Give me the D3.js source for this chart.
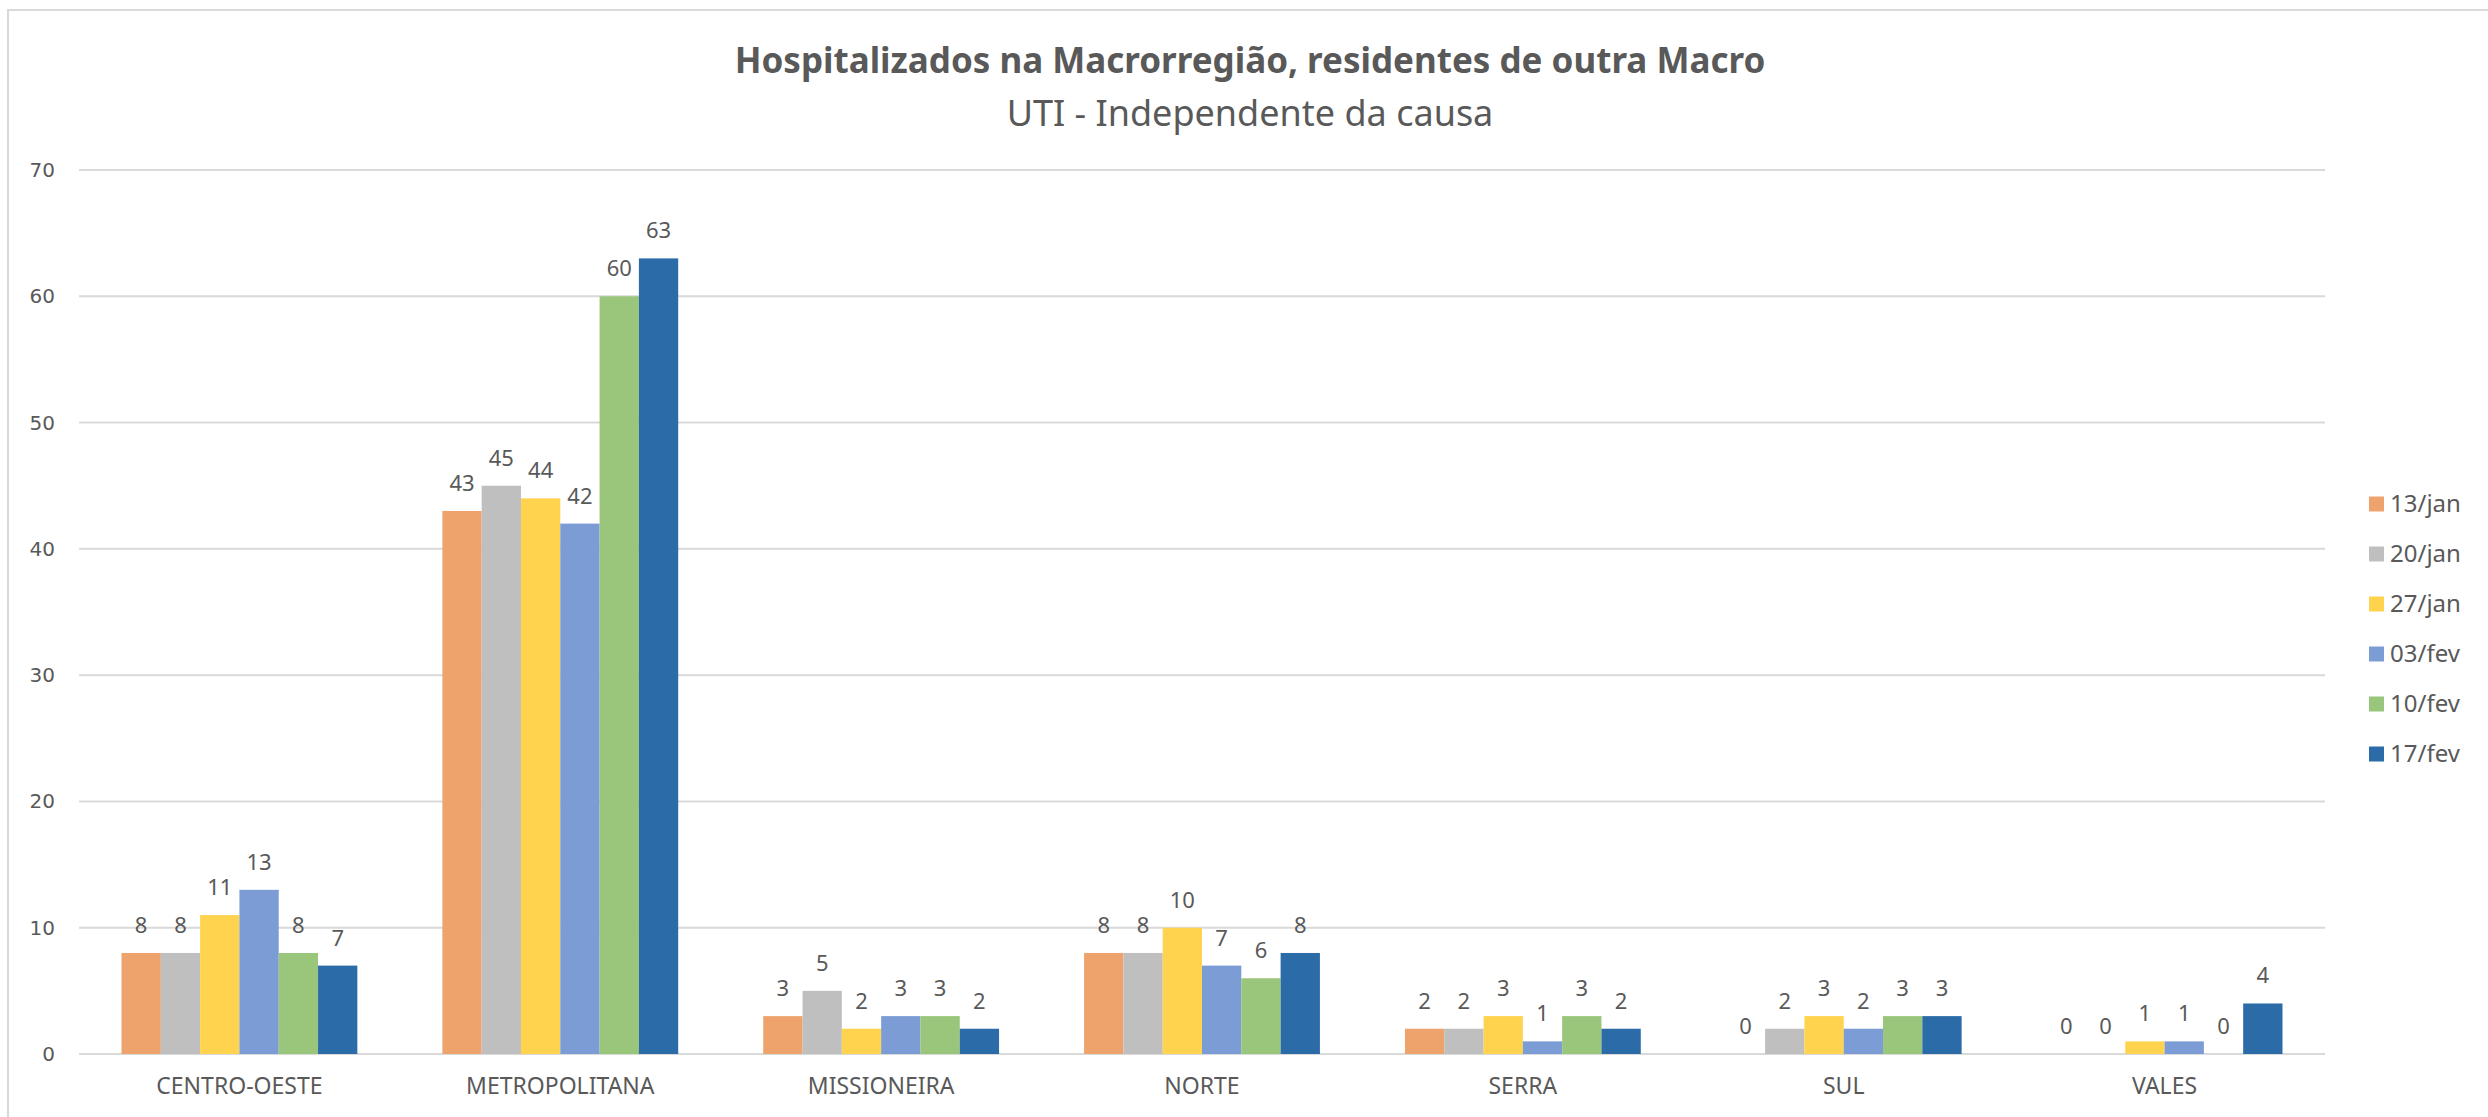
<!DOCTYPE html>
<html>
<head>
<meta charset="utf-8">
<script src="https://cdn.jsdelivr.net/npm/d3@7"></script>
<style>
  body { margin: 0; background: #fff; }
  text { font-family: "Noto Sans", "Open Sans", sans-serif; fill: #595959; }
</style>
</head>
<body>
<div id="chart"></div>
<script>
const width = 2488;
const height = 1117;

const regions = ["CENTRO-OESTE", "METROPOLITANA", "MISSIONEIRA", "NORTE", "SERRA", "SUL", "VALES"];
const weeks = ["13/jan", "20/jan", "27/jan", "03/fev", "10/fev", "17/fev"];
const colors = ["#EFA36C", "#BFBFBF", "#FFD34E", "#7C9CD5", "#99C67B", "#2B6CA8"];

const jan13 = [8, 43, 3, 8, 2, 0, 0];
const jan20 = [8, 45, 5, 8, 2, 2, 0];
const jan27 = [11, 44, 2, 10, 3, 3, 1];
const fev03 = [13, 42, 3, 7, 1, 2, 1];
const fev10 = [8, 60, 3, 6, 3, 3, 0];
const fev17 = [7, 63, 2, 8, 2, 3, 4];
const series = [jan13, jan20, jan27, fev03, fev10, fev17];

const yTicks = [0, 10, 20, 30, 40, 50, 60, 70];

const margin = { left: 79, right: 2325, top: 170, bottom: 1054 };

const svg = d3.select("#chart")
    .append("svg")
    .attr("width", width)
    .attr("height", height);

// chart area border (only top and left visible in the original)
svg.append("path")
    .attr("d", `M8,${height} L8,10 L${width},10`)
    .attr("fill", "none")
    .attr("stroke", "#D9D9D9")
    .attr("stroke-width", 2);

const x0 = d3.scaleBand()
    .domain(regions)
    .range([margin.left, margin.right])
    .paddingInner(0.265)
    .paddingOuter(0.1325);

const x1 = d3.scaleBand()
    .domain(weeks)
    .range([0, x0.bandwidth()]);

const y = d3.scaleLinear()
    .domain([0, 70])
    .range([margin.bottom, margin.top]);

// gridlines
svg.append("g")
    .selectAll("line")
    .data(yTicks)
    .enter()
    .append("line")
    .attr("x1", margin.left)
    .attr("x2", margin.right)
    .attr("y1", d => y(d))
    .attr("y2", d => y(d))
    .attr("stroke", "#D9D9D9")
    .attr("stroke-width", 2);

// y labels
svg.append("g")
    .selectAll("text")
    .data(yTicks)
    .enter()
    .append("text")
    .attr("x", 55)
    .attr("y", d => y(d))
    .attr("dy", "0.35em")
    .attr("text-anchor", "end")
    .style("font-family", "'DejaVu Sans', sans-serif")
    .style("font-size", "20px")
    .text(d => d);

// bars + labels
const groups = svg.append("g")
    .selectAll("g")
    .data(series)
    .enter()
    .append("g")
    .attr("fill", (d, i) => colors[i]);

groups.selectAll("rect")
    .data((d, i) => d.map((v, j) => ({ v, region: regions[j], week: weeks[i] })))
    .enter()
    .append("rect")
    .attr("x", d => x0(d.region) + x1(d.week))
    .attr("y", d => y(d.v))
    .attr("width", x1.bandwidth())
    .attr("height", d => y(0) - y(d.v));

groups.selectAll("text")
    .data((d, i) => d.map((v, j) => ({ v, region: regions[j], week: weeks[i] })))
    .enter()
    .append("text")
    .attr("x", d => x0(d.region) + x1(d.week) + x1.bandwidth() / 2)
    .attr("y", d => y(d.v) - 20)
    .attr("text-anchor", "middle")
    .style("font-size", "22px")
    .text(d => d.v);

// category labels
svg.append("g")
    .selectAll("text")
    .data(regions)
    .enter()
    .append("text")
    .attr("x", d => x0(d) + x0.bandwidth() / 2)
    .attr("y", 1094)
    .attr("text-anchor", "middle")
    .style("font-size", "23px")
    .text(d => d);

// titles
svg.append("text")
    .attr("x", 1250)
    .attr("y", 73)
    .attr("text-anchor", "middle")
    .style("font-size", "35px")
    .style("font-weight", "bold")
    .text("Hospitalizados na Macrorregião, residentes de outra Macro");

svg.append("text")
    .attr("x", 1250)
    .attr("y", 126)
    .attr("text-anchor", "middle")
    .style("font-size", "36px")
    .text("UTI - Independente da causa");

// legend
const legend = svg.append("g")
    .selectAll("g")
    .data(weeks)
    .enter()
    .append("g")
    .attr("transform", (d, i) => `translate(2369, ${504 + i * 50})`);

legend.append("rect")
    .attr("x", 0)
    .attr("y", -7.5)
    .attr("width", 15)
    .attr("height", 15)
    .attr("fill", (d, i) => colors[i]);

legend.append("text")
    .attr("x", 21)
    .attr("y", 0)
    .attr("dy", "0.35em")
    .style("font-size", "24px")
    .text(d => d);
</script>
</body>
</html>
